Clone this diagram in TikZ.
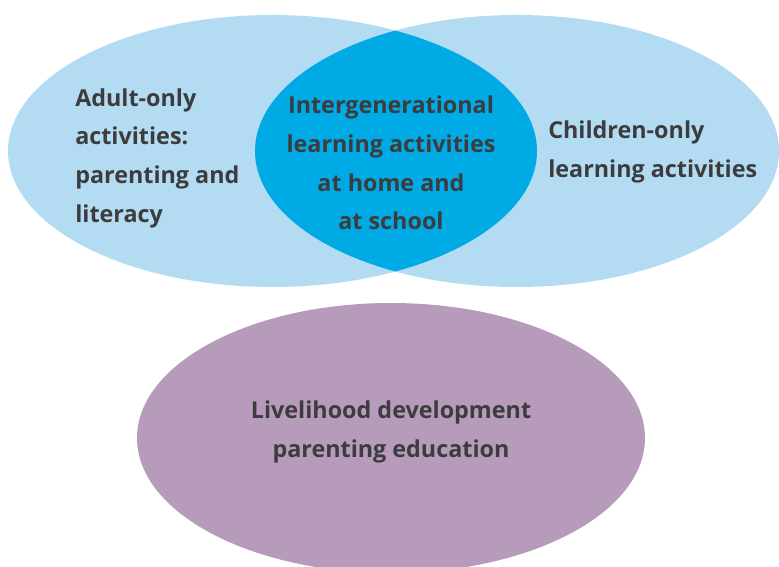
\documentclass[tikz,border=0pt]{standalone}
\usepackage{fontspec}
\setmainfont{Open Sans}
\definecolor{paleblue}{HTML}{B3DCF3}
\definecolor{deepblue}{HTML}{00AAE4}
\definecolor{mauve}{HTML}{B79BBA}
\definecolor{inkgrey}{HTML}{3C3C3E}
\tikzset{
  label text/.style={text=inkgrey,font=\fontsize{17.5}{29}\selectfont\bfseries,inner sep=0pt},
}

\begin{document}
\begin{tikzpicture}[x=0.75pt,y=-0.75pt]
\useasboundingbox (0,0) rectangle (779,567);
\fill[paleblue] (272.5,151) ellipse [x radius=264.5,y radius=136];
\fill[paleblue] (517,151) ellipse [x radius=262,y radius=136];
\begin{scope}
\clip (272.5,151) ellipse [x radius=264.5,y radius=136];
\fill[deepblue] (517,151) ellipse [x radius=262,y radius=136];
\end{scope}
\fill[mauve] (391,438) ellipse [x radius=254,y radius=135];
\node[label text,align=left,anchor=west] (adult) at (75,158) {Adult-only\\activities:\\parenting and\\literacy};
\node[label text,align=center] (inter) at (391,163) {Intergenerational\\learning activities\\at home and\\at school};
\node[label text,align=left,anchor=west] (child) at (548,152) {Children-only\\learning activities};
\node[label text,align=center] (livelihood) at (391,432) {Livelihood development\\parenting education};
\end{tikzpicture}
\end{document}
